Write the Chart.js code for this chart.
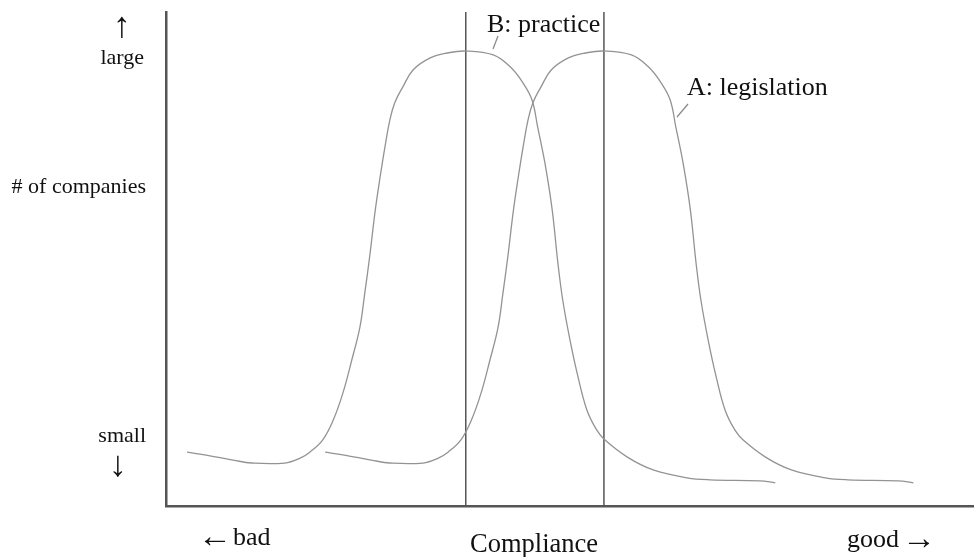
<!DOCTYPE html>
<html>
<head>
<meta charset="utf-8">
<script src="https://cdn.jsdelivr.net/npm/chart.js@4/dist/chart.umd.min.js"></script>
<style>
  body { margin: 0; background: #fff; }
  canvas { display: block; }
</style>
</head>
<body>
<canvas id="myChart" width="974" height="557"></canvas>
<script>
// compliance (x) vs number of companies (y), both on a 0..100 scale
const practiceX = [2.6, 4.2, 6.3, 8.3, 10.6, 14.7, 16.6, 17.8, 19.4, 20.7, 21.9, 23.0, 24.0, 24.6, 25.2, 25.9, 26.5, 27.1, 27.7, 28.3, 29.3, 30.6, 32.7, 34.8, 37.1, 40.5, 42.6, 44.2, 45.3, 46.0, 46.9, 47.8, 48.5, 49.1, 50.0, 51.0, 52.1, 53.3, 54.3, 57.1, 60.3, 64.5, 67.3, 73.5, 75.4];
const practiceY = [10.9, 10.5, 9.9, 9.3, 8.7, 8.7, 9.7, 10.9, 13.4, 17.4, 22.9, 29.6, 36.2, 43.1, 50.4, 59.9, 66.6, 72.7, 78.1, 81.6, 84.8, 88.3, 90.7, 91.7, 92.1, 91.3, 88.9, 85.6, 82.2, 76.7, 69.4, 59.9, 49.2, 41.7, 33.6, 26.1, 19.4, 15.4, 13.4, 9.9, 7.3, 5.7, 5.3, 5.1, 4.7];

const legislationX = [19.7, 21.3, 23.4, 25.4, 27.7, 31.8, 33.7, 34.9, 36.5, 37.8, 39.0, 40.1, 41.1, 41.7, 42.3, 43.0, 43.6, 44.2, 44.8, 45.4, 46.4, 47.7, 49.8, 51.9, 54.2, 57.6, 59.7, 61.3, 62.4, 63.1, 64.0, 64.9, 65.6, 66.2, 67.1, 68.1, 69.2, 70.4, 71.4, 74.2, 77.4, 81.6, 84.4, 90.6, 92.5];
const legislationY = [10.9, 10.5, 9.9, 9.3, 8.7, 8.7, 9.7, 10.9, 13.4, 17.4, 22.9, 29.6, 36.2, 43.1, 50.4, 59.9, 66.6, 72.7, 78.1, 81.6, 84.8, 88.3, 90.7, 91.7, 92.1, 91.3, 88.9, 85.6, 82.2, 76.7, 69.4, 59.9, 49.2, 41.7, 33.6, 26.1, 19.4, 15.4, 13.4, 9.9, 7.3, 5.7, 5.3, 5.1, 4.7];

// mode (peak) of each distribution
const peakX = [37.1, 54.2];

const toPoints = (xs, ys) => xs.map((x, i) => ({ x: x, y: ys[i] }));

const serif = '"Liberation Serif", "Times New Roman", serif';
const labels = [
  { text: "\u2191", x: 122, y: 37, size: 36, align: "center" },
  { text: "large", x: 144, y: 64, size: 22, align: "right" },
  { text: "# of companies", x: 146, y: 193, size: 22, align: "right" },
  { text: "small", x: 146, y: 442, size: 22, align: "right" },
  { text: "\u2193", x: 118, y: 476, size: 36, align: "center" },
  { text: "\u2190", x: 198, y: 547, size: 34, align: "left" },
  { text: "bad", x: 233, y: 545, size: 26, align: "left" },
  { text: "Compliance", x: 534, y: 552, size: 26.5, align: "center" },
  { text: "good", x: 847, y: 547, size: 26, align: "left" },
  { text: "\u2192", x: 902, y: 549, size: 34, align: "left" },
  { text: "B: practice", x: 487, y: 32, size: 26, align: "left" },
  { text: "A: legislation", x: 687, y: 95, size: 26, align: "left" },
];
const leaders = [
  [498, 36, 493, 49],
  [688, 104, 677, 117],
];

const textPlugin = {
  id: "textPlugin",
  afterDraw(chart) {
    const ctx = chart.ctx;
    ctx.save();
    ctx.fillStyle = "#111";
    ctx.textBaseline = "alphabetic";
    labels.forEach((l) => {
      ctx.font = l.size + "px " + serif;
      ctx.textAlign = l.align;
      ctx.fillText(l.text, l.x, l.y);
    });
    ctx.strokeStyle = "#8c8c8c";
    ctx.lineWidth = 1.3;
    leaders.forEach((s) => {
      ctx.beginPath();
      ctx.moveTo(s[0], s[1]);
      ctx.lineTo(s[2], s[3]);
      ctx.stroke();
    });
    ctx.restore();
  },
};

const curveStyle = {
  showLine: true,
  pointRadius: 0,
  borderColor: "#939393",
  borderWidth: 1.3,
  tension: 0.4,
  fill: false,
};

new Chart(document.getElementById("myChart"), {
  type: "scatter",
  data: {
    datasets: [
      { label: "B: practice", data: toPoints(practiceX, practiceY), ...curveStyle },
      { label: "A: legislation", data: toPoints(legislationX, legislationY), ...curveStyle },
      ...peakX.map((p) => ({
        label: "peak",
        data: [{ x: p, y: 0 }, { x: p, y: 100 }],
        showLine: true,
        pointRadius: 0,
        borderColor: "#555",
        borderWidth: 1.5,
      })),
    ],
  },
  options: {
    responsive: false,
    animation: false,
    layout: { padding: { left: 158, top: 12, right: 0, bottom: 43 } },
    plugins: { legend: { display: false }, tooltip: { enabled: false } },
    scales: {
      x: {
        type: "linear",
        min: 0,
        max: 100,
        ticks: { display: false },
        grid: { display: false },
        border: { display: true, color: "#555", width: 2.5 },
      },
      y: {
        type: "linear",
        min: 0,
        max: 100,
        ticks: { display: false },
        grid: { display: false },
        border: { display: true, color: "#555", width: 2.5 },
      },
    },
  },
  plugins: [textPlugin],
});
</script>
</body>
</html>
